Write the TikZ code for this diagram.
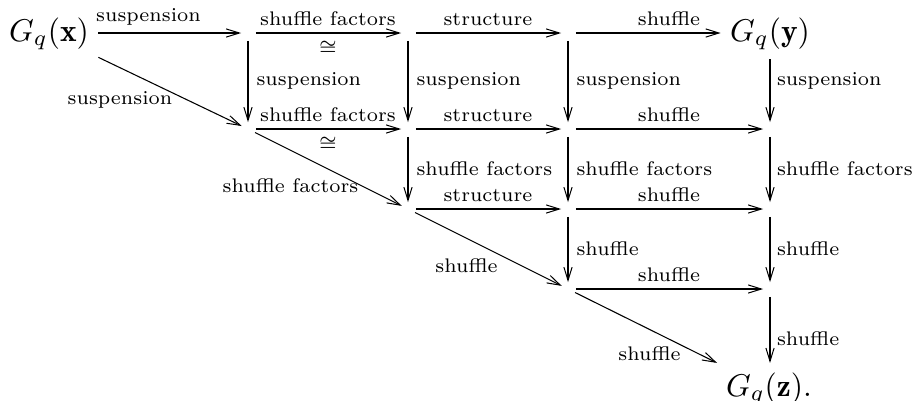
\documentclass[tikz,border=0pt]{standalone}
\usepackage{fontspec}
\newfontfamily\lblfont{lmroman7-regular.otf}
\usetikzlibrary{arrows.meta}
\begin{document}
\begin{tikzpicture}[x=0.3175pt,y=-0.3175pt,
  >={Straight Barb[length=4.2pt,width=2.6pt,line width=0.32pt]},
  obj/.style={inner sep=3pt, outer sep=0pt, font=\fontsize{10}{12}\selectfont},
  lbl/.style={inner sep=0pt, outer sep=0pt, font=\lblfont\fontsize{6.25}{7.5}\selectfont},
  hl/.style={lbl, anchor=south},
  vl/.style={lbl, anchor=west},
  arthick/.style={->, line width=0.72pt, shorten <=2.5pt, shorten >=2.2pt},
  armed/.style={->, line width=0.5pt, shorten <=2.5pt, shorten >=2.2pt},
  arthin/.style={->, line width=0.34pt, shorten <=2.5pt, shorten >=2.2pt}]
\useasboundingbox (0,0) rectangle (915,400);

% objects
\node[obj, anchor=base] (X) at (49,41) {$G_q(\mathbf{x})$};
\node[obj, anchor=base] (Y) at (770,41) {$G_q(\mathbf{y})$};
\node[obj, anchor=base] (Z) at (769,396) {$G_q(\mathbf{z})$.};

% grid points
\coordinate (c1r0) at (248,33);
\coordinate (c2r0) at (408,33);
\coordinate (c3r0) at (568,33);
\coordinate (c1r1) at (248,129);
\coordinate (c2r1) at (408,129);
\coordinate (c3r1) at (568,129);
\coordinate (c4r1) at (770,129);
\coordinate (c2r2) at (408,209);
\coordinate (c3r2) at (568,209);
\coordinate (c4r2) at (770,209);
\coordinate (c3r3) at (568,289);
\coordinate (c4r3) at (770,289);

% horizontal arrows
\draw[arthick, shorten <=0pt] (X.east |- c1r0) -- (c1r0);
\draw[arthick] (c1r0) -- (c2r0);
\draw[arthick] (c2r0) -- (c3r0);
\draw[arthick, shorten >=0pt] (c3r0) -- (Y.west |- c3r0);
\draw[arthick] (c1r1) -- (c2r1);
\draw[arthick] (c2r1) -- (c3r1);
\draw[arthick] (c3r1) -- (c4r1);
\draw[armed] (c2r2) -- (c3r2);
\draw[armed] (c3r2) -- (c4r2);
\draw[armed] (c3r3) -- (c4r3);

% vertical arrows
\draw[arthick] (c1r0) -- (c1r1);
\draw[arthick] (c2r0) -- (c2r1);
\draw[arthick] (c3r0) -- (c3r1);
\draw[arthick, shorten <=0pt] (Y.south -| c4r1) -- (c4r1);
\draw[arthick] (c2r1) -- (c2r2);
\draw[arthick] (c3r1) -- (c3r2);
\draw[arthick] (c4r1) -- (c4r2);
\draw[arthick] (c3r2) -- (c3r3);
\draw[arthick] (c4r2) -- (c4r3);
\draw[arthick, shorten >=0pt] (c4r3) -- (c4r3 |- Z.north);

% diagonal arrows
\draw[arthin, shorten <=0pt] (X) -- (c1r1);
\draw[arthin] (c1r1) -- (c2r2);
\draw[arthin] (c2r2) -- (c3r3);
\draw[arthin, shorten >=0pt] (c3r3) -- (Z);

% horizontal labels
\node[hl] (l01) at (148.5,25.5) {suspension};
\node[hl] (l02) at (328,25.5) {shuffle factors};
\node[lbl] (i02) at (328,48) {$\cong$};
\node[hl] (l03) at (488,25.5) {structure};
\node[hl] (l04) at (669,25.5) {shuffle};
\node[hl] (l12) at (328,121.5) {shuffle factors};
\node[lbl] (i12) at (328,143.5) {$\cong$};
\node[hl] (l13) at (488,121.5) {structure};
\node[hl] (l14) at (669,121.5) {shuffle};
\node[hl] (l23) at (488,201.5) {structure};
\node[hl] (l24) at (669,201.5) {shuffle};
\node[hl] (l34) at (669,281.5) {shuffle};

% vertical labels
\node[vl] (v1a) at (256.5,81) {suspension};
\node[vl] (v2a) at (416.5,81) {suspension};
\node[vl] (v3a) at (576.5,81) {suspension};
\node[vl] (v4a) at (777,81) {suspension};
\node[vl] (v2b) at (416.5,169) {shuffle factors};
\node[vl] (v3b) at (576.5,169) {shuffle factors};
\node[vl] (v4b) at (777,169) {shuffle factors};
\node[vl] (v3c) at (576.5,249) {shuffle};
\node[vl] (v4c) at (777,249) {shuffle};
\node[vl] (v4d) at (777,338.5) {shuffle};

% diagonal labels
\node[lbl, anchor=base] (d1) at (120,104) {suspension};
\node[lbl, anchor=base] (d2) at (290.5,192) {shuffle factors};
\node[lbl, anchor=base] (d3) at (466.5,272) {shuffle};
\node[lbl, anchor=base] (d4) at (649.5,360) {shuffle};
\end{tikzpicture}
\end{document}
